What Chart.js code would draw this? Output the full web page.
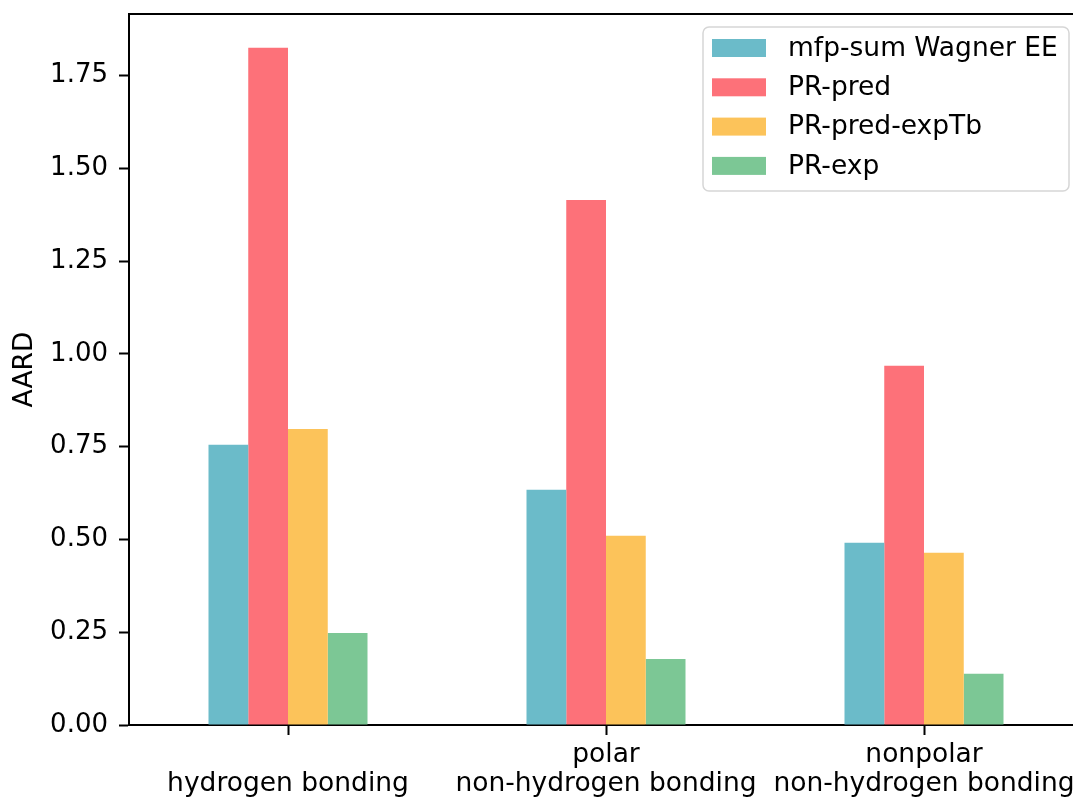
<!DOCTYPE html>
<html>
<head>
<meta charset="utf-8">
<script src="https://cdn.jsdelivr.net/npm/chart.js@4.4.0/dist/chart.umd.min.js"></script>
<style>
  html, body { margin: 0; padding: 0; background: #fff; overflow: hidden; }
  #wrap { width: 1100px; height: 798px; position: relative; }
</style>
</head>
<body>
<div id="wrap"><canvas id="barChart"></canvas></div>
<script>
const categories = [["", "hydrogen bonding"], ["polar", "non-hydrogen bonding"], ["nonpolar", "non-hydrogen bonding"]];
const seriesNames = ["mfp-sum Wagner EE", "PR-pred", "PR-pred-expTb", "PR-exp"];
const wagnerEE = [0.755, 0.634, 0.491];
const prPred = [1.825, 1.415, 0.968];
const prPredExpTb = [0.798, 0.510, 0.464];
const prExp = [0.248, 0.178, 0.138];
const yTickStep = 0.25;

const colors = ["#6bbbc9", "#fd7179", "#fcc35a", "#7cc795"];
const FONT = "'DejaVu Sans', sans-serif";

// top spine + matplotlib-like legend inside the axes
const frame = {
  id: "frame",
  afterDraw(chart) {
    const { ctx, chartArea } = chart;
    ctx.save();
    ctx.strokeStyle = "#000";
    ctx.lineWidth = 2;
    ctx.beginPath();
    ctx.moveTo(chartArea.left - 1, chartArea.top);
    ctx.lineTo(chartArea.right + 1, chartArea.top);
    ctx.moveTo(chartArea.right, chartArea.top);
    ctx.lineTo(chartArea.right, chartArea.bottom);
    ctx.stroke();

    // legend
    const x0 = 703, y0 = 27, w = 366, h = 164, r = 6;
    ctx.beginPath();
    ctx.roundRect(x0, y0, w, h, r);
    ctx.fillStyle = "rgba(255,255,255,0.8)";
    ctx.fill();
    ctx.strokeStyle = "#d6d6d6";
    ctx.lineWidth = 1.5;
    ctx.stroke();
    ctx.font = "26.5px " + FONT;
    ctx.textBaseline = "middle";
    chart.data.datasets.forEach((ds, i) => {
      const cy = 48 + i * 39.3;
      ctx.fillStyle = ds.backgroundColor;
      ctx.fillRect(712, cy - 9, 54, 18);
      ctx.fillStyle = "#000";
      ctx.fillText(ds.label, 788, cy + 1);
    });
    ctx.restore();
  }
};

new Chart(document.getElementById("barChart"), {
  type: "bar",
  data: {
    labels: categories,
    datasets: [wagnerEE, prPred, prPredExpTb, prExp].map((d, i) => ({
      label: seriesNames[i],
      data: d,
      backgroundColor: colors[i],
      categoryPercentage: 0.5,
      barPercentage: 1.0
    }))
  },
  options: {
    responsive: true,
    maintainAspectRatio: false,
    animation: false,
    layout: { padding: { top: 14, right: 17, left: 0, bottom: 0 } },
    plugins: { legend: { display: false }, tooltip: { enabled: false } },
    scales: {
      x: {
        grid: { display: true, offset: false, drawOnChartArea: false, tickLength: 10, tickWidth: 2, tickColor: "#000" },
        border: { display: true, color: "#000", width: 2 },
        ticks: { color: "#000", font: { family: FONT, size: 26.5, lineHeight: 1.08 }, padding: 6, maxRotation: 0 },
        afterFit(scale) { scale.height = 73; scale.paddingLeft = 0; scale.paddingRight = 0; }
      },
      y: {
        min: 0,
        max: Math.max(...prPred) * 1.05,
        grid: { display: true, drawOnChartArea: false, tickLength: 10, tickWidth: 2, tickColor: "#000" },
        border: { display: true, color: "#000", width: 2 },
        ticks: {
          stepSize: yTickStep,
          color: "#000",
          font: { family: FONT, size: 26 },
          padding: 11,
          callback: v => v.toFixed(2)
        },
        afterBuildTicks(scale) {
          scale.ticks = scale.ticks.filter(t => Math.abs(t.value / yTickStep - Math.round(t.value / yTickStep)) < 1e-6);
        },
        title: { display: true, text: "AARD", color: "#000", font: { family: FONT, size: 26.5 }, padding: { top: 9, bottom: 0 } },
        afterFit(scale) { scale.width = 129; scale.paddingTop = 0; scale.paddingBottom = 0; }
      }
    }
  },
  plugins: [frame]
});
</script>
</body>
</html>
